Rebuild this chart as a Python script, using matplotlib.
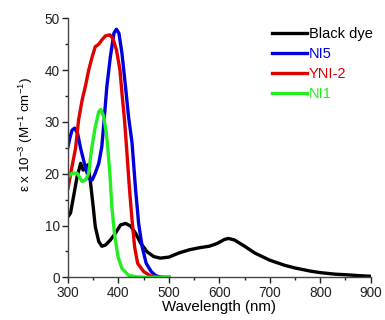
import matplotlib
matplotlib.use("Agg")
import matplotlib.pyplot as plt
from matplotlib.ticker import MultipleLocator

plt.rcParams['font.family'] = ['Liberation Sans', 'DejaVu Sans']
plt.rcParams['mathtext.fontset'] = 'custom'
plt.rcParams['mathtext.rm'] = 'Liberation Sans'
plt.rcParams['mathtext.it'] = 'Liberation Sans:italic'

# Black dye
black_x = [300, 305, 311, 318, 325, 330, 334, 339, 344, 350, 354, 361, 367, 374, 384, 394, 404, 414, 424, 434,
           444, 457, 470, 483, 500, 520, 540, 560, 580, 595, 610, 618, 630, 650, 670, 700, 730, 750, 780, 800,
           830, 850, 880, 900]
black_y = [11.7, 12.4, 15.6, 19.4, 22.0, 20.7, 21.0, 21.7, 18.8, 13.6, 9.8, 6.9, 6.0, 6.2, 7.2, 8.5, 10.1, 10.4, 9.9, 8.5,
           6.6, 4.9, 4.0, 3.7, 3.9, 4.7, 5.3, 5.7, 6.0, 6.5, 7.3, 7.5, 7.2, 6.0, 4.7, 3.3, 2.3, 1.8, 1.2, 0.9,
           0.6, 0.5, 0.3, 0.2]

# NI5
ni5_x = [300, 304, 308, 313, 319, 325, 334, 341, 348, 354, 361, 367, 371, 377, 384, 391, 396, 401, 407, 414,
         420, 427, 429, 434, 440, 447, 455, 465, 473, 480, 490, 500]
ni5_y = [25.2, 27.0, 28.4, 28.8, 27.8, 24.9, 21.4, 19.1, 18.8, 20.1, 22.0, 25.2, 29.7, 36.8, 42.6, 47.1, 47.9, 47.1, 43.2, 36.8,
         31.0, 25.9, 23.3, 16.9, 10.4, 5.9, 2.7, 1.1, 0.4, 0.1, 0.0, 0.0]

# YNI-2
yni2_x = [300, 308, 315, 321, 328, 335, 341, 348, 354, 361, 367, 374, 383, 389, 396, 403, 407, 412, 416, 419,
          422, 427, 432, 438, 450, 463, 480]
yni2_y = [17.2, 21.4, 24.9, 30.4, 34.2, 37.1, 40.0, 42.6, 44.5, 45.0, 45.8, 46.6, 46.8, 46.1, 43.9, 40.0, 35.5, 30.4, 25.2, 21.0,
          16.9, 11.0, 5.9, 2.7, 1.1, 0.3, 0.0]

# NI1
ni1_x = [300, 308, 318, 328, 335, 341, 344, 348, 354, 361, 365, 371, 376, 379, 383, 387, 392, 399, 407, 420,
         435, 450, 475, 500]
ni1_y = [19.4, 20.1, 20.1, 18.5, 18.8, 20.1, 22.6, 25.5, 29.0, 32.0, 32.4, 31.0, 27.8, 24.9, 20.0, 13.6, 8.5, 4.0, 1.7, 0.4,
         0.1, 0.0, 0.0, 0.0]

xticks = [300, 400, 500, 600, 700, 800, 900]
yticks = [0, 10, 20, 30, 40, 50]

fig = plt.figure(figsize=(3.85, 3.2), dpi=100)
ax = fig.add_axes([68 / 385, 1 - 277.3 / 320, (370.7 - 68) / 385, (277.3 - 18.3) / 320])

lw = 2.4
ax.plot(black_x, black_y, color='black', lw=lw, label='Black dye')
ax.plot(ni5_x, ni5_y, color='#0000dd', lw=lw, label='NI5')
ax.plot(yni2_x, yni2_y, color='#e00000', lw=lw, label='YNI-2')
ax.plot(ni1_x, ni1_y, color='#22ee22', lw=lw, label='NI1')

ax.set_xlim(300, 900)
ax.set_ylim(0, 50)
ax.set_xticks(xticks)
ax.set_yticks(yticks)
ax.xaxis.set_minor_locator(MultipleLocator(50))
ax.yaxis.set_minor_locator(MultipleLocator(5))
ax.tick_params(which='major', direction='out', length=4, width=1, labelsize=9.8, colors='#222222', pad=2)
ax.tick_params(which='minor', direction='out', length=2.5, width=1, colors='#222222')
for s in ['top', 'right']:
    ax.spines[s].set_visible(False)
for s in ['left', 'bottom']:
    ax.spines[s].set_color('#444444')
    ax.spines[s].set_linewidth(1)

ax.set_xlabel('Wavelength (nm)', fontsize=10.8, labelpad=0)
ax.set_ylabel(r'$\mathrm{\varepsilon\ x\ 10^{-3}\ (M^{-1}\ cm^{-1})}$', fontsize=9.6)
ax.yaxis.set_label_coords(-0.11, 0.55)

leg = ax.legend(loc='upper left', bbox_to_anchor=(0.655, 0.99), frameon=False, fontsize=10.5,
                handlelength=2.4, handletextpad=0.1, labelspacing=0.42, borderaxespad=0)
for txt, line in zip(leg.get_texts(), leg.get_lines()):
    txt.set_color(line.get_color())

fig.savefig('out.png', dpi=100)
